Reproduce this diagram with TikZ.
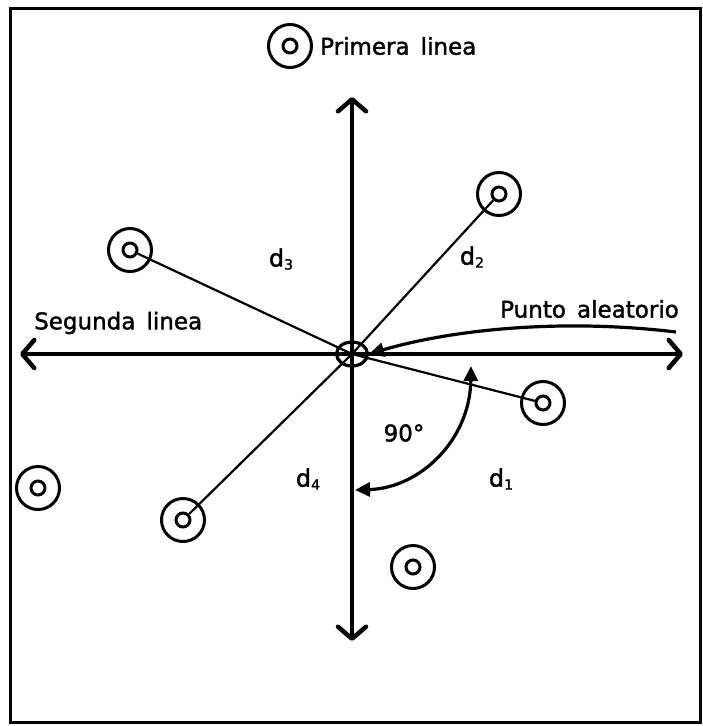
\documentclass[tikz,border=0pt]{standalone}
\usepackage{fontspec}
\setmainfont{DejaVu Sans}
\newfontfamily\heavy{DejaVu Sans}[FakeBold=1.6]
\usetikzlibrary{arrows.meta,shapes.geometric}
\begin{document}
\begin{tikzpicture}[x=1pt,y=-1pt,
  outer/.style={circle,draw,line width=3pt,minimum size=43pt,inner sep=0pt},
  inner/.style={circle,draw,line width=3pt,minimum size=14pt,inner sep=0pt},
  axis/.style={line width=4pt,{Straight Barb[round,length=12pt,width=28pt,line width=4.5pt]}-{Straight Barb[round,length=12pt,width=28pt,line width=4.5pt]}},
  dist/.style={line width=2.2pt},
  lbl/.style={inner sep=0pt,font=\heavy\fontsize{23}{26}\selectfont},
  dlbl/.style={inner sep=0pt,font=\heavy\fontsize{24}{26}\selectfont},
  bent/.style={line width=3.2pt}]
\useasboundingbox (0,0) rectangle (702,726);
\draw[line width=3pt] (10,8) rectangle (700,722);
% axes
\coordinate (L) at (20,354);
\coordinate (R) at (683,354);
\coordinate (T) at (352,97);
\coordinate (B) at (352,641);
\draw[axis] (L) -- (R);
\draw[axis] (T) -- (B);
\node[ellipse,draw,line width=3.2pt,minimum width=31pt,minimum height=24pt,inner sep=0pt] (c) at (352,354) {};
% points
\node[outer] (pm) at (290,46) {}; \node[inner] (pmi) at (pm) {};
\node[outer] (p2) at (499,194) {}; \node[inner] (p2i) at (p2) {};
\node[outer] (p3) at (130,250) {}; \node[inner] (p3i) at (p3) {};
\node[outer] (p1) at (543,403) {}; \node[inner] (p1i) at (p1) {};
\node[outer] (p4) at (183,520) {}; \node[inner] (p4i) at (p4) {};
\node[outer] (pl) at (38,488) {}; \node[inner] (pli) at (pl) {};
\node[outer] (pb) at (413,567) {}; \node[inner] (pbi) at (pb) {};
% distance lines
\draw[dist] (c.center) -- (p1i);
\draw[dist] (c.center) -- (p2i);
\draw[dist] (c.center) -- (p3i);
\draw[dist] (c.center) -- (p4i);
% labels
\node[lbl,anchor=west] (t1) at (320,46) {Primera\, linea};
\node[lbl,anchor=west] (t2) at (34,323) {Segunda\, linea};
\node[lbl,anchor=east] (t3) at (679,309) {Punto\, aleatorio};
\node[dlbl] (d3) at (281,259) {d\raisebox{-3pt}{\fontsize{14}{15}\selectfont 3}};
\node[dlbl] (d2) at (472,257) {d\raisebox{-3pt}{\fontsize{14}{15}\selectfont 2}};
\node[dlbl] (d4) at (308,479) {d\raisebox{-3pt}{\fontsize{14}{15}\selectfont 4}};
\node[dlbl] (d1) at (501,479) {d\raisebox{-3pt}{\fontsize{14}{15}\selectfont 1}};
\node[lbl] (deg) at (404,433) {90°};
% Punto aleatorio arrow
\coordinate (pa) at (676,332);
\draw[bent,-{Triangle[length=15pt,width=14pt]}] (pa) .. controls (560,318) and (450,330) .. (c.east);
% 90 degree arc
\coordinate (a1) at (471,366);
\coordinate (a2) at (355,490);
\draw[bent,{Triangle[length=15pt,width=14pt]}-{Triangle[length=15pt,width=14pt]}] (a2) .. controls (420,488) and (470,440) .. (a1);
\end{tikzpicture}
\end{document}
